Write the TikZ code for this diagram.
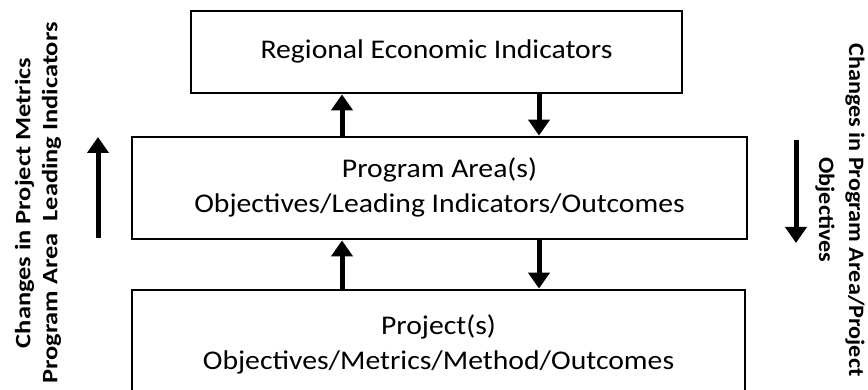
\documentclass[tikz,border=0pt]{standalone}
\usepackage{fontspec}
\setmainfont{Carlito}
\usetikzlibrary{arrows.meta}
\newcommand{\wide}[2]{\scalebox{#1}[1]{\begin{tabular}{@{}c@{}}#2\end{tabular}}}
\tikzset{
  box/.style={draw=black, line width=2.8pt, align=center, inner sep=0pt,
    font=\fontsize{27}{35}\selectfont},
  arr/.style={line width=5pt, -{Triangle[width=21pt,length=16pt]}},
  side/.style={inner sep=0pt, font=\bfseries\fontsize{22}{27}\selectfont},
}
\begin{document}
\begin{tikzpicture}[x=1pt,y=-1pt]
\clip (0,0) rectangle (868,390);
\fill[white] (0,0) rectangle (868,390);
\node[box, minimum width=491pt, minimum height=82pt] (top) at (436.5,52) {\wide{1.1}{Regional Economic Indicators}};
\node[box, minimum width=615pt, minimum height=102pt] (mid) at (439.5,188) {\wide{1.1}{Program Area(s)\\Objectives/Leading Indicators/Outcomes}};
\node[box, minimum width=613pt, minimum height=110pt] (bot) at (438.5,345) {\wide{1.1}{Project(s)\\Objectives/Metrics/Method/Outcomes}};
\coordinate (xa) at (342,0);
\coordinate (xb) at (539,0);
\draw[arr] (mid.north -| xa) -- (top.south -| xa);
\draw[arr] (top.south -| xb) -- (mid.north -| xb);
\draw[arr] (bot.north -| xa) -- (mid.south -| xa);
\draw[arr] (mid.south -| xb) -- (bot.north -| xb);
\node[side, rotate=90] (lt) at (38.5,203) {\wide{1.2}{Changes in Project Metrics\\Program Area~ Leading Indicators}};
\node[side, rotate=-90, font=\bfseries\fontsize{22}{30}\selectfont] (rt) at (840,210) {\wide{1.1}{Changes in Program Area/Project\\Objectives}};
\coordinate (la) at (98,238);
\coordinate (lb) at (98,137);
\coordinate (ra) at (796,140);
\coordinate (rb) at (796,243);
\draw[arr] (la) -- (lb);
\draw[arr] (ra) -- (rb);
\end{tikzpicture}
\end{document}
